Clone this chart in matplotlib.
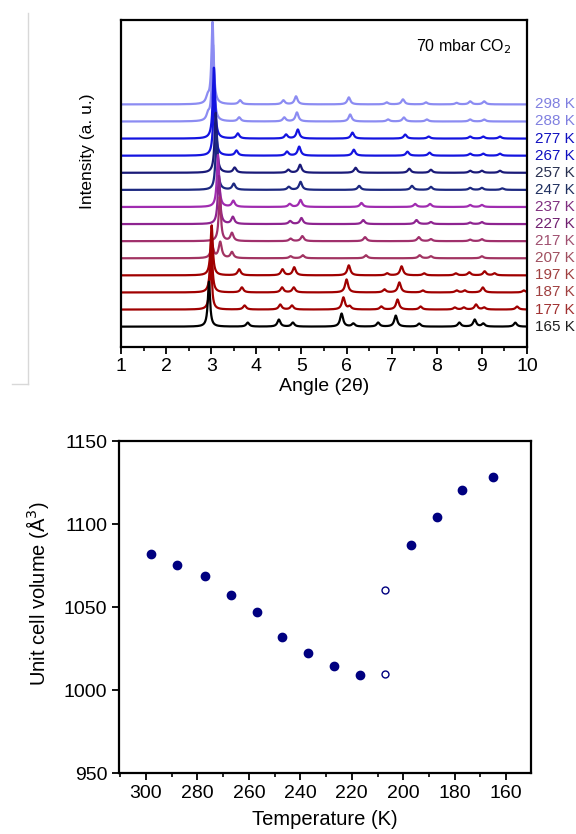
import numpy as np
import matplotlib
matplotlib.use("Agg")
import matplotlib.pyplot as plt
from matplotlib.lines import Line2D
from matplotlib.ticker import MultipleLocator

plt.rcParams["font.family"] = ["Liberation Sans", "DejaVu Sans"]

# ---- XRD patterns: (2theta position, peak height) ----
temps = ["298 K", "288 K", "277 K", "267 K", "257 K", "247 K", "237 K",
         "227 K", "217 K", "207 K", "197 K", "187 K", "177 K", "165 K"]

peaks_298 = [(2.92, 6), (3.03, 82), (3.64, 4), (4.60, 4), (4.88, 8), (6.05, 7), (6.89, 2),
             (7.25, 5), (7.76, 2), (8.44, 1.5), (8.74, 3), (9.05, 3)]
peaks_288 = [(2.93, 6), (3.04, 76), (3.62, 4), (4.62, 4), (4.90, 9), (6.08, 7), (6.92, 2),
             (7.27, 4), (7.78, 2), (8.74, 2), (9.05, 2)]
peaks_277 = [(3.06, 71), (3.59, 5), (4.66, 4), (4.92, 9), (6.13, 6), (7.30, 4), (7.82, 2),
             (8.74, 2), (9.03, 2), (9.40, 2)]
peaks_267 = [(3.07, 66), (3.56, 5), (4.68, 4), (4.95, 9), (6.16, 6), (7.35, 4), (7.84, 3),
             (8.74, 2), (9.03, 2), (9.40, 2)]
peaks_257 = [(3.10, 60), (3.52, 5), (4.71, 3), (4.97, 8), (6.20, 5), (7.39, 4), (7.87, 3),
             (8.74, 2), (9.00, 2), (9.40, 2)]
peaks_247 = [(3.12, 56), (3.50, 6), (4.72, 3), (4.98, 8), (6.28, 4), (7.45, 4), (7.87, 3),
             (8.74, 2), (9.00, 2), (9.45, 1.5)]
peaks_237 = [(3.15, 52), (3.49, 6), (4.74, 3), (4.98, 7), (6.33, 4), (7.52, 3), (7.85, 3),
             (8.74, 2), (9.00, 2)]
peaks_227 = [(3.17, 48), (3.48, 7), (4.75, 3), (5.00, 6), (6.37, 4), (7.55, 4), (7.87, 2),
             (8.74, 1.5), (9.00, 2)]
peaks_217 = [(3.19, 44), (3.46, 8), (4.76, 2.5), (5.02, 5), (6.41, 4), (7.60, 4), (7.87, 2),
             (8.74, 1.5), (9.00, 2)]
peaks_207 = [(3.02, 12), (3.20, 16), (3.46, 6), (4.76, 2), (5.03, 3), (6.43, 3), (7.62, 3),
             (7.87, 2), (9.00, 2)]
peaks_197 = [(3.01, 50), (3.62, 6), (4.58, 6), (4.84, 8), (6.05, 10), (6.90, 2), (7.22, 9),
             (7.72, 2), (8.42, 2), (8.72, 3), (9.06, 4), (9.28, 2)]
peaks_187 = [(3.00, 50), (3.68, 5), (4.57, 5), (4.83, 5), (6.00, 13), (6.84, 3), (7.17, 10),
             (7.69, 2), (8.44, 2), (8.62, 2), (9.02, 5), (9.93, 2)]
peaks_177 = [(2.99, 48), (3.74, 4), (4.53, 5), (4.79, 4), (5.93, 12), (6.07, 3), (6.77, 3),
             (7.13, 10), (7.64, 3), (8.40, 2), (8.60, 2), (8.87, 5), (9.05, 2), (9.78, 3)]
peaks_165 = [(2.95, 45), (3.81, 4), (4.50, 7), (4.81, 4), (5.89, 13), (6.15, 3), (6.70, 4),
             (7.09, 11), (7.61, 3), (8.50, 4), (8.84, 7), (9.03, 3), (9.74, 4)]

patterns = [peaks_298, peaks_288, peaks_277, peaks_267, peaks_257, peaks_247, peaks_237,
            peaks_227, peaks_217, peaks_207, peaks_197, peaks_187, peaks_177, peaks_165]

line_colors = ["#8c8cf2", "#8c8cf2", "#1414e0", "#1414e0", "#1a1a78", "#1c2880", "#a02cb0",
               "#8e2490", "#a0306c", "#a23462", "#a00000", "#a00000", "#a00000", "#000000"]
label_colors = ["#8080e0", "#8080e0", "#1010c0", "#1010c0", "#283050", "#203060", "#803080",
                "#702070", "#a05070", "#a05060", "#a04040", "#a04040", "#a03030", "#202020"]

# ---- unit cell volume vs temperature ----
temp_k = [298, 288, 277, 267, 257, 247, 237, 227, 217, 197, 187, 177, 165]
volume = [1082, 1075.5, 1068.5, 1057.5, 1047, 1032, 1022.5, 1014.5, 1009, 1087.5, 1104, 1120.5, 1128.5]
temp_open = [207, 207]
volume_open = [1009.5, 1060]

fig = plt.figure(figsize=(5.76, 8.34), dpi=100)

# top panel
ax1 = fig.add_axes([0.210, 0.584, 0.705, 0.392])
x = np.linspace(1, 10, 3000)
spacing = 17.1
n = len(patterns)
for i, (pk, c) in enumerate(zip(patterns, line_colors)):
    base = (n - 1 - i) * spacing
    y = np.zeros_like(x)
    for p, h in pk:
        w = 0.03 if h > 20 else 0.04
        y += h / (1 + ((x - p) / w) ** 2)
    ax1.plot(x, y + base, color=c, lw=1.6, solid_joinstyle="round")
    ax1.text(1.02, base, temps[i], transform=ax1.get_yaxis_transform(), color=label_colors[i],
             fontsize=11, va="center", ha="left", clip_on=False)

ax1.set_xlim(1, 10)
ax1.set_ylim(-20.3, 306.7)
ax1.set_yticks([])
ax1.xaxis.set_major_locator(MultipleLocator(1))
ax1.xaxis.set_minor_locator(MultipleLocator(0.5))
ax1.tick_params(axis="x", which="major", direction="out", length=5, width=1.3, labelsize=14, pad=3)
ax1.tick_params(axis="x", which="minor", direction="out", length=3, width=1.2)
for s in ax1.spines.values():
    s.set_linewidth(1.6)
ax1.set_xlabel("Angle (2\u03b8)", fontsize=14, labelpad=2)
ax1.set_ylabel("Intensity (a. u.)", fontsize=12.5)
ax1.yaxis.set_label_coords(-0.065, 0.6)
ax1.text(0.96, 0.92, "70 mbar CO$_2$", transform=ax1.transAxes, ha="right", va="center", fontsize=11.5)

# bottom panel
ax2 = fig.add_axes([0.2066, 0.0731, 0.7154, 0.3981])
ax2.plot(temp_k, volume, "o", color="#000080", ms=6, mec="#000080")
ax2.plot(temp_open, volume_open, "o", mfc="white", mec="#000080", ms=5, mew=1)
ax2.set_xlim(310.5, 150.3)
ax2.set_ylim(950, 1150)
ax2.xaxis.set_major_locator(MultipleLocator(20))
ax2.xaxis.set_minor_locator(MultipleLocator(10))
ax2.yaxis.set_major_locator(MultipleLocator(50))
ax2.tick_params(which="major", direction="out", length=5, width=1.3, labelsize=14)
ax2.tick_params(which="minor", direction="out", length=3, width=1.2)
for s in ax2.spines.values():
    s.set_linewidth(1.6)
ax2.set_xlabel("Temperature (K)", fontsize=14.5, labelpad=6)
ax2.set_ylabel("Unit cell volume (\u00c5$^3$)", fontsize=14.5)
ax2.yaxis.set_label_coords(-0.165, 0.54)

# faint frame remnant at the left edge of the source image
fig.add_artist(Line2D([28 / 576, 28 / 576], [1 - 13 / 834, 1 - 384 / 834], color="#d8d8d8", lw=1))
fig.add_artist(Line2D([12 / 576, 28 / 576], [1 - 384 / 834, 1 - 384 / 834], color="#d8d8d8", lw=1))

fig.savefig("out.png", dpi=100)
